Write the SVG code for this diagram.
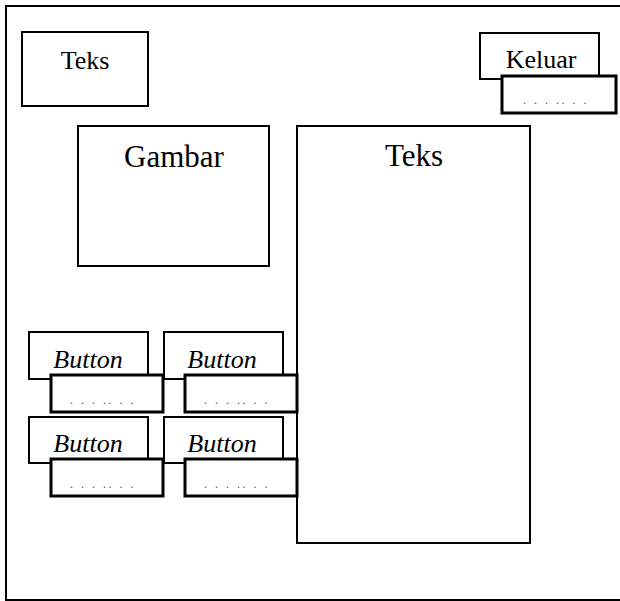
<svg xmlns="http://www.w3.org/2000/svg" width="620" height="601" viewBox="0 0 620 601">
<style>
  rect { fill: #fff; stroke: #000; stroke-width: 2; }
  rect.dots { stroke-width: 3; }
  text { font-family: "Liberation Serif", "Times New Roman", serif; fill: #000; text-anchor: middle; }
  .sm { font-size: 26px; }
  .lg { font-size: 31px; }
  .btn { font-size: 26px; font-style: italic; }
  .dt { font-size: 12px; letter-spacing: 2.5px; fill: #555; }
</style>
<rect width="620" height="601" style="fill:#fff;stroke:none"/>
<g id="frame"><rect x="6" y="6" width="640" height="594"/></g>
<g id="teks-kecil"><rect x="22" y="32" width="126" height="74"/><text class="sm" x="85" y="69">Teks</text></g>
<g id="keluar">
  <rect x="480" y="33" width="119" height="46"/><text class="sm" x="541" y="68">Keluar</text>
  <rect class="dots" x="502" y="76" width="114" height="37"/><text class="dt" x="556" y="104">. . . .. . .</text>
</g>
<g id="gambar"><rect x="78" y="126" width="191" height="140"/><text class="lg" x="174" y="167">Gambar</text></g>
<g id="teks-besar"><rect x="297" y="126" width="233" height="417"/><text class="lg" x="414" y="166">Teks</text></g>
<g id="button1">
  <rect x="29" y="332" width="119" height="47"/><text class="btn" x="88" y="368">Button</text>
  <rect class="dots" x="51" y="375" width="112" height="37"/><text class="dt" x="103" y="404">. . . .. . .</text>
</g>
<g id="button2">
  <rect x="164" y="332" width="119" height="47"/><text class="btn" x="222" y="368">Button</text>
  <rect class="dots" x="185" y="375" width="112" height="37"/><text class="dt" x="237" y="404">. . . .. . .</text>
</g>
<g id="button3">
  <rect x="29" y="417" width="119" height="46"/><text class="btn" x="88" y="452">Button</text>
  <rect class="dots" x="51" y="459" width="112" height="37"/><text class="dt" x="103" y="488">. . . .. . .</text>
</g>
<g id="button4">
  <rect x="164" y="417" width="119" height="46"/><text class="btn" x="222" y="452">Button</text>
  <rect class="dots" x="185" y="459" width="112" height="37"/><text class="dt" x="237" y="488">. . . .. . .</text>
</g>
<g id="connectors"></g>
</svg>
